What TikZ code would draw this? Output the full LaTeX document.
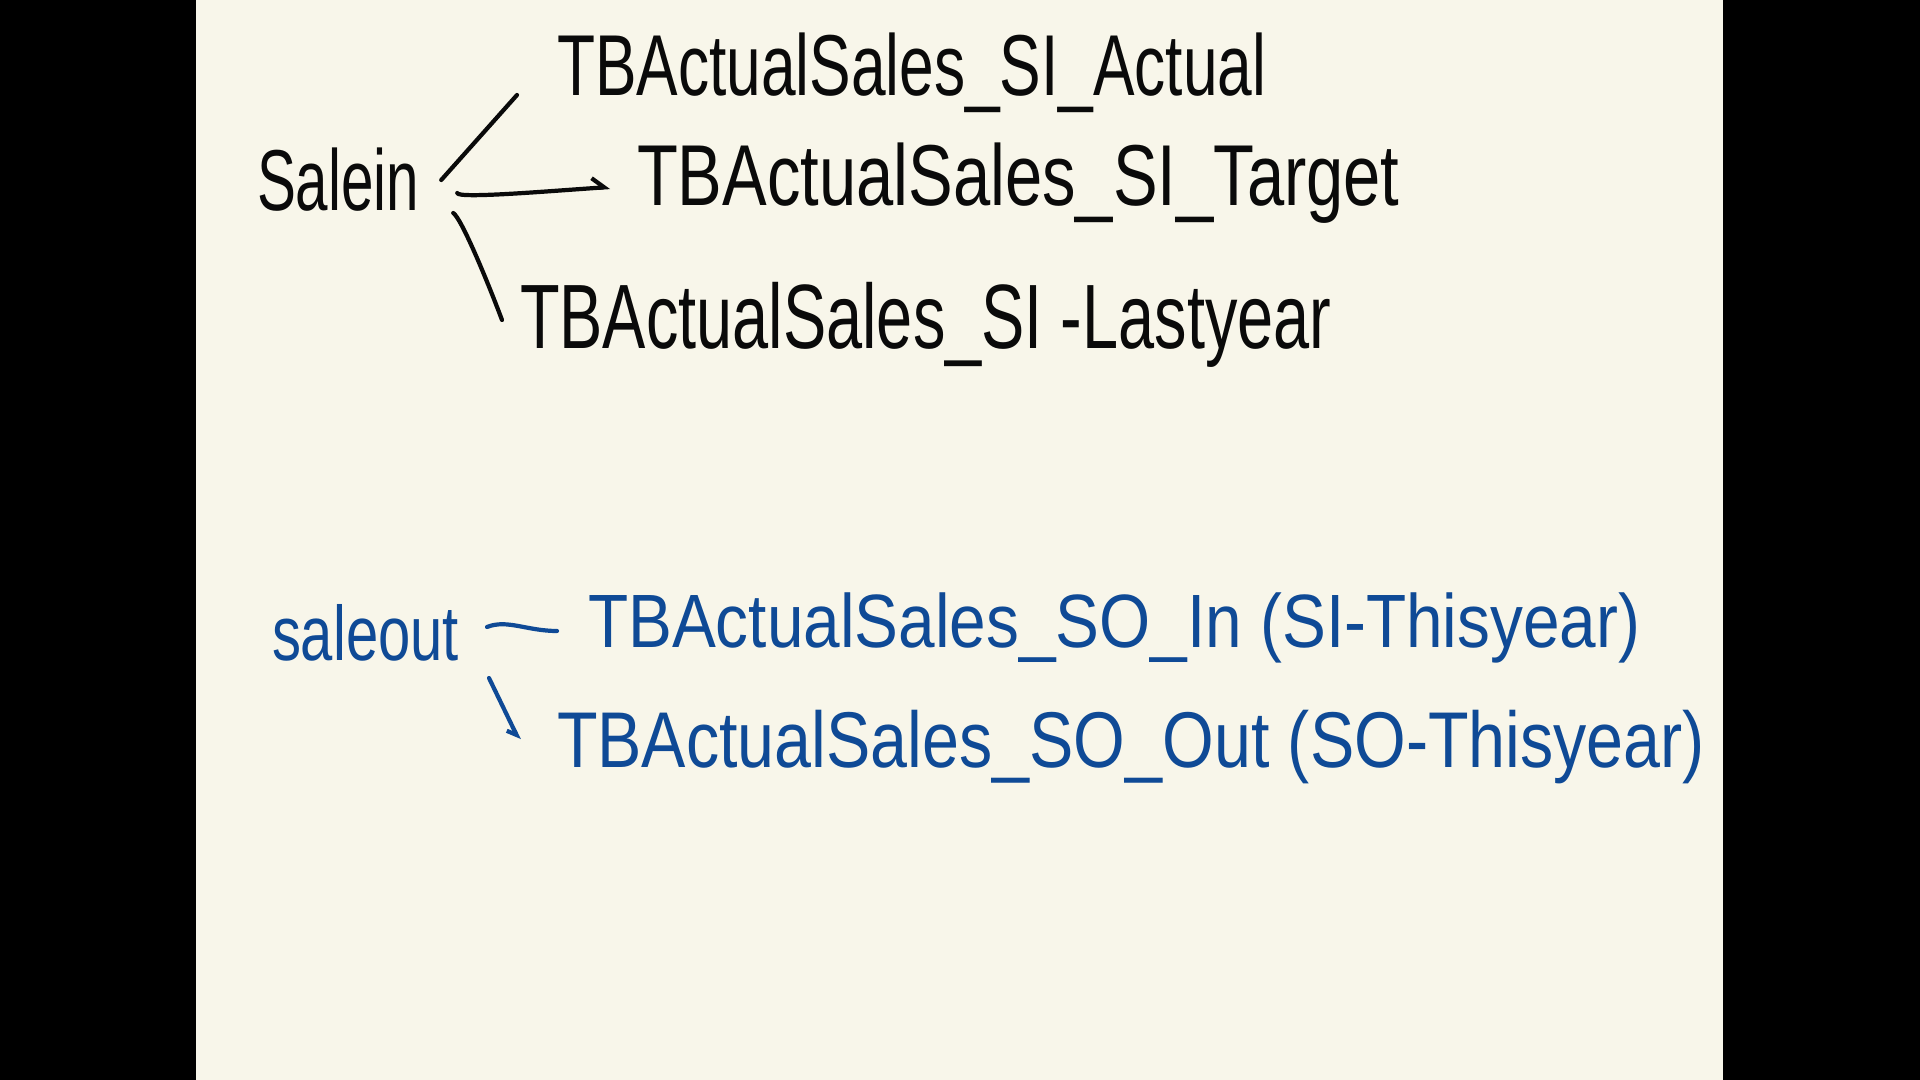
\documentclass[tikz,border=0pt]{standalone}
\usepackage{graphicx}
\usepackage{fontspec}
\setmainfont{Liberation Sans}
\usepackage{tikz}
\usetikzlibrary{arrows.meta,positioning,calc}
\definecolor{nbpaper}{HTML}{F8F6EA}
\definecolor{nbink}{HTML}{0A0A0A}
\definecolor{nbblue}{HTML}{0F4A96}
\newcommand{\narrow}[2]{\scalebox{#1}[1]{#2}}

\begin{document}
\begin{tikzpicture}[>=Latex,
    inkline/.style={line width=1.2pt,line cap=round,line join=round},
    note/.style={anchor=base west,inner sep=0pt,outer sep=0pt}]
    \fill[black] (0,0) rectangle (19.2,-10.8);
    \fill[nbpaper] (1.96,0) rectangle (17.23,-10.8);
    \useasboundingbox (0,0) rectangle (19.2,-10.8);
    % sale in
    \node[note,nbink,font=\fontsize{24.6}{28}\selectfont] (salein) at (2.57,-2.11) {\narrow{0.675}{Salein}};
    \node[note,nbink,font=\fontsize{24.6}{28}\selectfont] (actual) at (5.57,-0.96) {\narrow{0.72}{TBActualSales\_SI\_Actual}};
    \node[note,nbink,font=\fontsize{24.6}{28}\selectfont] (target) at (6.37,-2.06) {\narrow{0.774}{TBActualSales\_SI\_Target}};
    \node[note,nbink,font=\fontsize{26}{30}\selectfont] (lastyear) at (5.20,-3.49) {\narrow{0.71}{TBActualSales\_SI -Lastyear}};
    \draw[inkline,nbink] ([shift={(0.22,0.31)}]salein.base east) -- ([shift={(-0.40,0.01)}]actual.base west);
    \draw[inkline,nbink,-{Straight Barb[length=1.2mm,width=2mm,left]}] ([shift={(0.38,0.18)}]salein.base east)
      .. controls +(0,-0.06) and +(-0.6,-0.04) .. ([shift={(-0.27,0.19)}]target.base west);
    \draw[inkline,nbink] ([shift={(0.34,-0.02)}]salein.base east)
      .. controls +(0.08,-0.05) and +(-0.15,0.4) .. ([shift={(-0.18,0.29)}]lastyear.base west);
    % sale out
    \node[note,nbblue,font=\fontsize{22}{26}\selectfont] (saleout) at (2.72,-6.60) {\narrow{0.75}{saleout}};
    \node[note,nbblue,font=\fontsize{21.5}{26}\selectfont] (soin) at (5.88,-6.47) {\narrow{0.87}{TBActualSales\_SO\_In (SI-Thisyear)}};
    \node[note,nbblue,font=\fontsize{22.5}{26}\selectfont] (soout) at (5.57,-7.67) {\narrow{0.84}{TBActualSales\_SO\_Out (SO-Thisyear)}};
    \draw[inkline,nbblue] ([shift={(0.28,0.33)}]saleout.base east)
      .. controls +(0.2,0.08) and +(-0.3,0) .. ([shift={(-0.31,0.16)}]soin.base west);
    \draw[inkline,nbblue,-{Straight Barb[length=0.8mm,width=1.4mm,right]}] ([shift={(0.30,-0.18)}]saleout.base east) -- ([shift={(-0.38,0.27)}]soout.base west);
\end{tikzpicture}
\end{document}
